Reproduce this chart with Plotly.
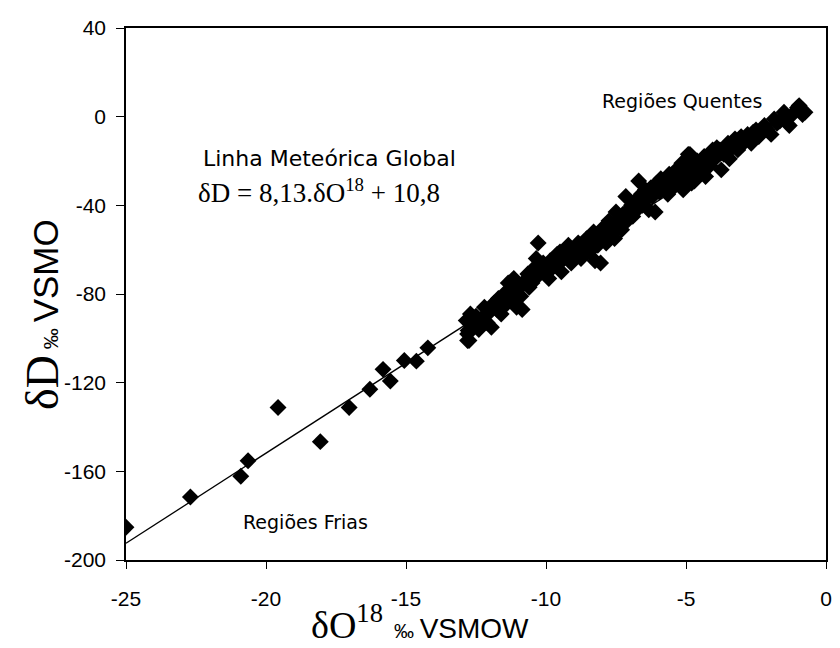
import plotly.graph_objects as go

# Cold-region samples
cold_x = [-25.0, -22.7, -20.9, -20.64, -19.57, -18.06, -17.03, -16.29, -15.82, -15.56, -15.06, -14.63, -14.22,
          -12.78, -12.78, -12.8]
cold_y = [-185.2, -171.6, -162.2, -155.2, -131.2, -146.6, -131.2, -123.0, -114.0, -119.3, -110.0, -110.3, -104.3,
          -92.0, -96.5, -101.0]

# Warm-region dense band
warm_x = [-12.85, -12.8, -12.75, -12.7, -12.6, -12.5, -12.4, -12.3, -12.2, -12.1, -12.0, -11.95, -11.85, -11.75,
          -11.7, -11.6, -11.5, -11.45, -11.35, -11.3, -11.2, -11.15, -11.05, -11.0, -10.9, -10.85, -10.75, -10.65,
          -10.6, -10.5,
          -10.4, -10.35, -10.3, -10.28, -10.2, -10.1, -10.0, -9.9, -9.85, -9.75, -9.65, -9.6, -9.5, -9.45, -9.35,
          -9.3, -9.2, -9.1, -9.05, -8.95, -8.85, -8.75, -8.7, -8.6, -8.55, -8.45, -8.35, -8.3, -8.25, -8.15, -8.1,
          -8.05,
          -7.95, -7.9, -7.85, -7.75, -7.7, -7.6, -7.55, -7.5, -7.45, -7.4, -7.3, -7.25, -7.15, -7.1, -7.05, -6.95,
          -6.9, -6.8, -6.75, -6.69, -6.6, -6.55, -6.45, -6.4, -6.33, -6.25, -6.2, -6.1, -6.05,
          -5.95, -5.9, -5.8, -5.74, -5.65, -5.6, -5.5, -5.45, -5.35, -5.28, -5.2, -5.15, -5.1, -5.0, -4.92, -4.86,
          -4.8, -4.75, -4.7, -4.6, -4.56, -4.5, -4.44, -4.35, -4.3, -4.21, -4.15, -4.05,
          -3.97, -3.9, -3.79, -3.74, -3.65, -3.5, -3.45, -3.35, -3.25, -3.15, -3.03, -2.95, -2.9, -2.8, -2.67, -2.6,
          -2.5, -2.4, -2.32, -2.2, -2.1, -1.96, -1.85, -1.75, -1.65, -1.5, -1.4, -1.31, -1.2, -1.02, -0.96, -0.84,
          -0.75]
warm_y = [-92, -98, -101, -89, -94, -90, -96, -91, -86, -93, -88, -95, -84, -87,
          -82, -89, -80, -85, -75, -83, -79, -73, -86, -78, -81, -87, -74, -71,
          -77, -75,
          -68, -64, -72, -57, -70, -66, -70, -73, -65, -68, -67, -62, -61, -70, -64,
          -60, -58, -66, -63, -60, -57, -64, -62, -59, -55, -61, -56, -52, -65, -58, -54,
          -66,
          -50, -53, -57, -47, -52, -49, -55, -43, -50, -46, -51, -44, -36, -47, -42, -40,
          -45, -38, -42, -29, -35, -40, -33, -37, -42, -32, -36, -43, -30,
          -34, -28, -31, -29, -35, -26, -27, -32, -24, -24, -29, -21, -33, -26, -17, -17,
          -30, -22, -29, -20, -22, -26, -24, -18, -27, -18, -22, -15,
          -19, -14, -15, -24, -17, -12, -19, -14, -10, -15, -9, -12, -10, -8, -12, -7,
          -6, -9, -7, -4, -6, -8, -1, -3, -2, 2, -1, -4, 1, 4, 5, 1,
          2]

# Global Meteoric Line endpoints (x) and coefficients
line_x = [-25.0, -1.0]
slope = 8.13
intercept = 10.8

x_ticks = [-25, -20, -15, -10, -5, 0]
y_ticks = [-200, -160, -120, -80, -40, 0, 40]

all_x = cold_x + warm_x
all_y = cold_y + warm_y

fig = go.Figure()
fig.add_trace(go.Scatter(
    x=line_x, y=[slope * v + intercept for v in line_x],
    mode="lines", line=dict(color="black", width=1.3), showlegend=False, hoverinfo="skip"))
fig.add_trace(go.Scatter(
    x=all_x, y=all_y, mode="markers",
    marker=dict(symbol="diamond", size=13, color="black", line=dict(width=0)),
    showlegend=False))

SANS = "Liberation Sans, Arial, sans-serif"
SERIF = "Liberation Serif, Times New Roman, serif"
GOTH = "DejaVu Sans, sans-serif"

fig.update_layout(
    width=832, height=640,
    margin=dict(l=118, r=8, t=17, b=88),
    paper_bgcolor="white", plot_bgcolor="white",
    font=dict(family=SANS, color="black"),
    xaxis=dict(range=[-25, 0], tickvals=x_ticks, ticktext=[str(v) for v in x_ticks],
               showgrid=False, zeroline=False, showline=True, linecolor="black", linewidth=1.5,
               mirror=True, ticks="outside", ticklen=7, tickwidth=1.3, tickcolor="black",
               ticklabelstandoff=12,
               tickfont=dict(family=SANS, size=21, color="black")),
    yaxis=dict(range=[-200, 40], tickvals=y_ticks, ticktext=[str(v) for v in y_ticks],
               showgrid=False, zeroline=False, showline=True, linecolor="black", linewidth=1.5,
               mirror=True, ticks="outside", ticklen=8, tickwidth=1.3, tickcolor="black",
               ticklabelstandoff=6,
               tickfont=dict(family=SANS, size=21, color="black")),
)

annots = [
    dict(x=-0.119, y=0.462, xref="paper", yref="paper", textangle=-90, showarrow=False,
         xanchor="center", yanchor="middle",
         text=f"<span style='font-family:{SERIF};font-size:46px'>δD</span>"
              f"<span style='font-size:21px'>&nbsp;‰&nbsp;</span>"
              f"<span style='font-size:35px'>VSMO</span>"),
    dict(x=0.42, y=-0.116, xref="paper", yref="paper", showarrow=False,
         xanchor="center", yanchor="middle",
         text=f"<span style='font-family:{SERIF};font-size:38px'>δO<sup>18</sup></span>"
              f"<span style='font-size:20px'>&nbsp;&nbsp;‰&nbsp;</span>"
              f"<span style='font-size:28px'>VSMOW</span>"),
    dict(x=-17.75, y=-19, xref="x", yref="y", showarrow=False, xanchor="center", yanchor="middle",
         text="Linha Meteórica Global", font=dict(family=GOTH, size=22, color="black")),
    dict(x=-18.1, y=-33.7, xref="x", yref="y", showarrow=False, xanchor="center", yanchor="middle",
         text="δD = 8,13.δO<sup>18</sup> + 10,8", font=dict(family=SERIF, size=27, color="black")),
    dict(x=-5.15, y=7.2, xref="x", yref="y", showarrow=False, xanchor="center", yanchor="middle",
         text="Regiões Quentes", font=dict(family=GOTH, size=19, color="black")),
    dict(x=-18.6, y=-183, xref="x", yref="y", showarrow=False, xanchor="center", yanchor="middle",
         text="Regiões Frias", font=dict(family=GOTH, size=19, color="black")),
]
fig.update_layout(annotations=annots)

fig.write_html("out.html")
